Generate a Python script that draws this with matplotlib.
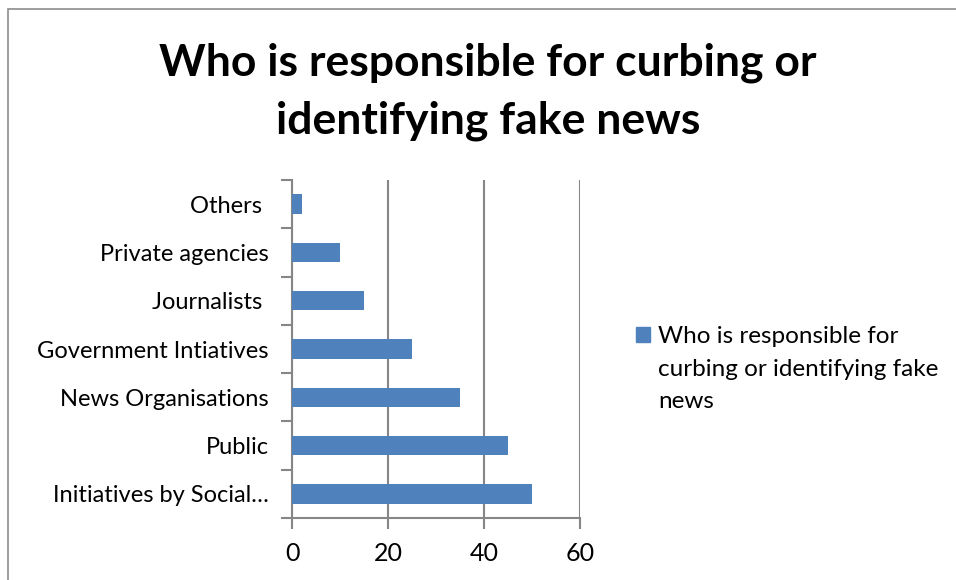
import matplotlib
matplotlib.use("Agg")
import matplotlib.pyplot as plt
from matplotlib.patches import Rectangle

plt.rcParams['font.family'] = ['Lato', 'DejaVu Sans']

categories = ["Initiatives by Social\u2026", "Public", "News Organisations",
              "Government Intiatives", "Journalists ", "Private agencies", "Others "]
values = [50, 45, 35, 25, 15, 10, 2]
xticks = [0, 20, 40, 60]
series_name = "Who is responsible for\ncurbing or identifying fake\nnews"
title = "Who is responsible for curbing or\nidentifying fake news"

bar_color = "#4f81bd"
grid_color = "#868686"

fig = plt.figure(figsize=(9.56, 5.8), dpi=100)
W, H = 956, 580
ax = fig.add_axes([292 / W, 1 - 518 / H, 288 / W, 338 / H])

ypos = list(range(len(categories)))
ax.barh(ypos, values, height=0.4, color=bar_color, zorder=3)
ax.set_ylim(-0.5, len(categories) - 0.5)
ax.set_xlim(0, 60)
ax.set_xticks(xticks)
ax.set_xticklabels([str(t) for t in xticks], fontsize=18)
ax.set_yticks(ypos)
ax.set_yticklabels(categories, fontsize=17)
ax.tick_params(axis='y', length=0, pad=17)
ax.tick_params(axis='x', length=8, width=1.5, color=grid_color, pad=9)

# category boundary ticks on the y axis
ax.set_yticks([i - 0.5 for i in range(len(categories) + 1)], minor=True)
ax.tick_params(axis='y', which='minor', length=8, width=1.5, color=grid_color)

for s in ['top', 'right']:
    ax.spines[s].set_visible(False)
for s in ['left', 'bottom']:
    ax.spines[s].set_color(grid_color)
    ax.spines[s].set_linewidth(1.5)
ax.xaxis.grid(True, color=grid_color, linewidth=1.5, zorder=0)
ax.set_axisbelow(True)

fig.text(488 / W, 1 - 92 / H, title, ha='center', va='center', fontsize=32,
         fontweight='bold', linespacing=1.52)

# legend
fig.patches.append(Rectangle((636 / W, 1 - 342 / H), 14 / W, 15 / H,
                             transform=fig.transFigure, color=bar_color))
fig.text(658 / W, 1 - 369 / H, series_name, ha='left', va='center',
         fontsize=17.5, linespacing=1.67)

# outer chart border
fig.patches.append(Rectangle((8 / W, -0.1), 1.2, 1 - 9 / H + 0.1,
                             transform=fig.transFigure, fill=False,
                             edgecolor="#8c8c8c", linewidth=1.2))

fig.savefig("out.png", dpi=100)
